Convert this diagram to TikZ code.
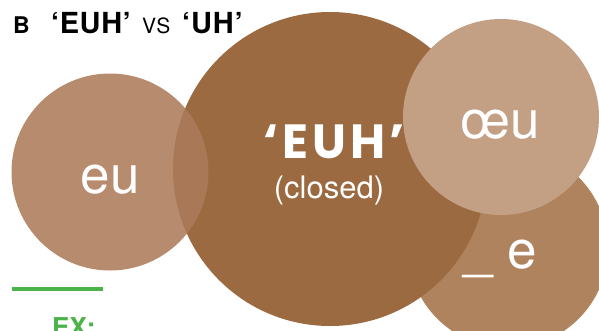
\documentclass[tikz,border=0pt]{standalone}
\usepackage{fontspec}
\setmainfont{TeX Gyre Heros}
\newfontfamily\roundfont{Poppins}
\usepackage{tikz}
\usetikzlibrary{positioning}
\definecolor{euhbrown}{RGB}{155,106,65}
\definecolor{eubrown}{RGB}{172,123,90}
\definecolor{oeubrown}{RGB}{195,159,131}
\definecolor{ebrown}{RGB}{176,131,95}
\definecolor{exgreen}{RGB}{76,178,74}
\tikzset{
	sound/.style={text=white, inner sep=0pt, anchor=base, font=\fontsize{53}{53}\selectfont},
	ttl/.style={inner sep=0pt, anchor=base west}
}

\begin{document}
\begin{tikzpicture}[x=1pt,y=-1pt]
		\useasboundingbox (0,0) rectangle (599,330);
		\coordinate (E)  at (508,248);
		\coordinate (M)  at (330,169);
		\coordinate (U)  at (110,172);
		\coordinate (OE) at (501,117);
		\coordinate (rl) at (12,289);
		\coordinate (rr) at (103,289);
		\fill[ebrown] (E) circle (100pt);
		\fill[euhbrown] (M) circle (157pt);
		\fill[eubrown, fill opacity=0.88] (U) circle (98.5pt);
		\fill[oeubrown] (OE) circle (98pt);
		\draw[exgreen, line width=4.5pt] (rl)--(rr);
		\node[ttl] (b) at (13,33) {\fontsize{23}{23}\selectfont\bfseries B};
		\node[ttl] (euh) at (51,33) {\fontsize{29}{29}\selectfont\bfseries\addfontfeatures{LetterSpace=2}‘EUH’};
		\node[ttl] (vs) at (142,33) {\fontsize{21}{21}\selectfont\addfontfeatures{LetterSpace=4}VS};
		\node[ttl] (uh) at (182,33) {\fontsize{29}{29}\selectfont\bfseries\addfontfeatures{LetterSpace=3}‘UH’};
		\node[text=white, inner sep=0pt, anchor=base] (euhc) at (334,158) {\fontsize{48}{48}\selectfont\roundfont\bfseries\addfontfeatures{LetterSpace=8}‘EUH’};
		\node[text=white, inner sep=0pt, anchor=base] (closed) at (329,198) {\fontsize{31}{31}\selectfont (closed)};
		\node[sound] (eu) at (110,193) {eu};
		\node[sound] (oeu) at (500,138) {œu};
		\node[sound] (e) at (500,268) {\_ e};
		\node[ttl, text=exgreen] (ex) at (52,336) {\fontsize{26}{26}\selectfont\bfseries EX:};
\end{tikzpicture}
\end{document}
